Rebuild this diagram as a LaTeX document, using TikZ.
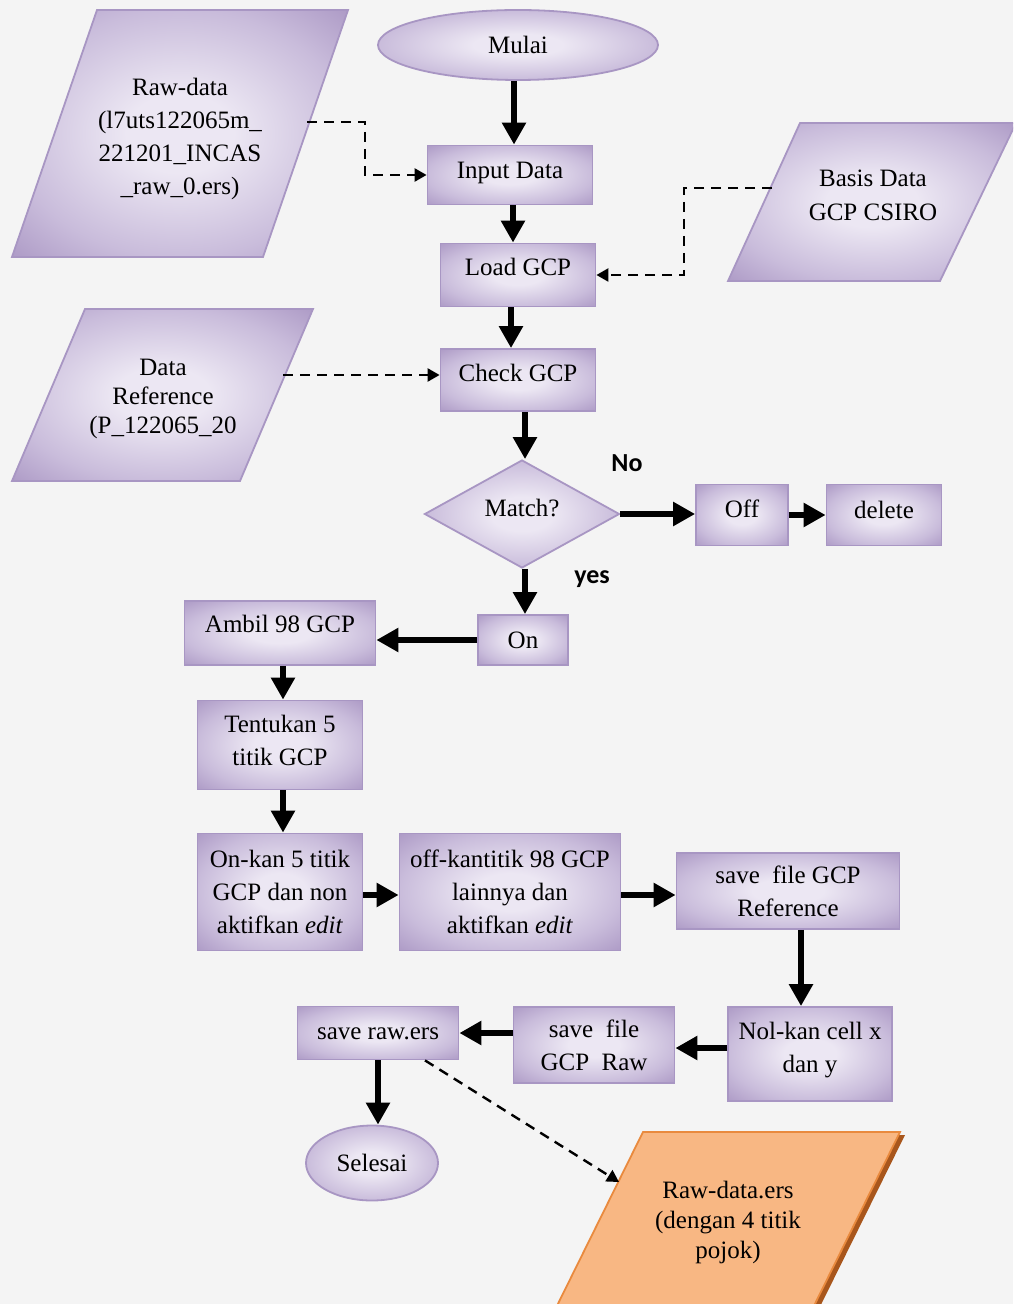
\documentclass[tikz,border=0pt]{standalone}
\usepackage{fontspec}
\setmainfont{Liberation Serif}
\newfontfamily\lblfont{Carlito}
\usetikzlibrary{shapes.geometric,arrows.meta,calc}
\definecolor{lavL}{HTML}{ECE7F3}
\definecolor{lavM}{HTML}{C9BCDB}
\definecolor{lavD}{HTML}{AC99C5}
\definecolor{lavB}{HTML}{A896C3}
\definecolor{orgL}{HTML}{F8B783}
\definecolor{orgD}{HTML}{EF9244}
\definecolor{orgB}{HTML}{E98A3E}
\definecolor{orgS}{HTML}{A8561C}
\definecolor{bgc}{HTML}{F4F4F4}
\pgfdeclareradialshading{lavrad}{\pgfpointorigin}{color(0bp)=(lavL); color(8bp)=(lavL); color(25bp)=(lavM); color(36bp)=(lavD); color(50bp)=(lavD)}
\newcommand\fsz{\fontsize{12.5}{16.5}\selectfont}
\newcommand\liftby[2]{\raisebox{#1}[\height][\depth]{\begin{tabular}{@{}c@{}}#2\end{tabular}}}
\begin{document}
\begin{tikzpicture}[x=0.5pt,y=-0.5pt,
 shp/.style={draw=lavB, line width=0.9pt, shading=lavrad, shade},
 box/.style={shp, rectangle, inner sep=2pt, font=\fsz, align=center},
 lift/.style={text height=8.5pt, text depth=#1pt},
 oval/.style={shp, ellipse, inner sep=0pt, font=\fsz},
 txt/.style={font=\fsz, align=center, inner sep=0pt},
 arr/.style={line width=3.2pt, -{Triangle[width=11.5pt,length=11pt]}},
 darr/.style={line width=1.2pt, dash pattern=on 5pt off 3.5pt, -{Triangle[width=6.5pt,length=6pt]}},
 lbl/.style={font=\lblfont\bfseries\fontsize{13}{15}\selectfont, inner sep=0pt}
]
\useasboundingbox (0,0) rectangle (1013,1304);
\clip (0,0) rectangle (1013,1304);
\fill[bgc] (0,0) rectangle (1013,1304);

% data parallelograms
\path[shp] (97,10) -- (348,10) -- (263,257) -- (12,257) -- cycle;
\node[txt] (rawdata) at (180,139) {Raw-data\\(l7uts122065m\_\\221201\_INCAS\\\_raw\_0.ers)};
\coordinate (rawR) at (307,122);

\path[shp] (85,309) -- (313,309) -- (240,481) -- (12,481) -- cycle;
\node[txt, font=\fontsize{12.5}{14.5}\selectfont] (dataref) at (163,399) {Data\\Reference\\(P\_122065\_20};
\coordinate (refR) at (283,375);

\path[shp] (800,123) -- (1016,123) -- (940,281) -- (728,281) -- cycle;
\node[txt, font=\fontsize{12.5}{17}\selectfont] (basis) at (873,195) {Basis Data\\GCP CSIRO};
\coordinate (basisL) at (772,188);

\path[fill=orgS] (647,1135) -- (905,1135) -- (807,1333) -- (549,1333) -- cycle;
\path[draw=orgB, line width=0.9pt, top color=orgL, middle color=orgD, bottom color=orgL] (643,1132) -- (900,1132) -- (802,1330) -- (545,1330) -- cycle;
\node[txt, font=\fontsize{12.5}{15}\selectfont] (rawers) at (728,1222) {Raw-data.ers\\(dengan 4 titik\\pojok)};
\coordinate (rawersL) at (619,1182);

% process nodes
\node[oval, minimum width=140pt, minimum height=35pt] (mulai) at (518,45) {Mulai};
\node[box, lift=5, minimum width=82.5pt, minimum height=29.5pt] (input) at (510,175) {Input Data};
\node[box, lift=8, minimum width=77.5pt, minimum height=31.5pt] (load) at (518,275) {Load GCP};
\node[box, lift=7, minimum width=77.5pt, minimum height=31pt] (check) at (518,380) {Check GCP};
\node[shp, diamond, aspect=1.8, inner sep=0pt, font=\fsz, lift=6, minimum width=97.5pt, minimum height=54pt] (match) at (522,514) {Match?};
\node[box, lift=6, minimum width=46pt, minimum height=30.5pt] (off) at (742,515) {Off};
\node[box, lift=5, minimum width=57.5pt, minimum height=30.5pt] (delete) at (884,515) {delete};
\node[box, lift=0, minimum width=45pt, minimum height=25pt] (on) at (523,640) {On};
\node[box, lift=9, minimum width=95.5pt, minimum height=32pt] (ambil) at (280,633) {Ambil 98 GCP};
\node[box, minimum width=82.5pt, minimum height=44.5pt] (tentukan) at (280,745) {\liftby{1.5pt}{Tentukan 5\\titik GCP}};
\node[box, minimum width=82.5pt, minimum height=58.5pt] (onkan) at (280,892) {On-kan 5 titik\\GCP dan non\\aktifkan \textit{edit}};
\node[box, minimum width=110.5pt, minimum height=58.5pt] (offkan) at (510,892) {off-kantitik 98 GCP\\lainnya dan\\aktifkan \textit{edit}};
\node[box, minimum width=111.5pt, minimum height=38pt] (saveref) at (788,891) {save\ \ file GCP\\Reference};
\node[box, minimum width=82pt, minimum height=47pt] (nolkan) at (810,1054) {\liftby{2.5pt}{Nol-kan cell x\\dan y}};
\node[box, minimum width=80.5pt, minimum height=38pt] (savegcpraw) at (594,1045) {save\ \ file\\GCP\ \ Raw};
\node[box, lift=2, minimum width=80.5pt, minimum height=26.5pt] (saveraw) at (378,1033) {save raw.ers};
\node[oval, minimum width=66pt, minimum height=37.5pt] (selesai) at (372,1163) {Selesai};

\node[lbl] (no) at (627,463) {No};
\node[lbl] (yes) at (592,579) {yes};

% thick connectors
\draw[arr] ([xshift=-2pt]mulai.south) -- ([xshift=2pt]input.north);
\draw[arr] ([xshift=1.5pt]input.south) -- ([xshift=-2.5pt]load.north);
\draw[arr] ([xshift=-3.5pt]load.south) -- ([xshift=-3.5pt]check.north);
\draw[arr] ([xshift=3.5pt]check.south) -- ([xshift=1.5pt]match.north);
\draw[arr] (match.east) -- (match.east -| off.west);
\draw[arr] (off.east) -- (delete.west);
\draw[arr] ([xshift=1.5pt]match.south) -- ([xshift=1pt]on.north);
\draw[arr] (on.west) -- (on.west -| ambil.east);
\draw[arr] ([xshift=1.5pt]ambil.south) -- ([xshift=1.5pt]tentukan.north);
\draw[arr] ([xshift=1.5pt]tentukan.south) -- ([xshift=1.5pt]onkan.north);
\draw[arr] ([yshift=-1.5pt]onkan.east) -- ([yshift=-1.5pt]offkan.west);
\draw[arr] ([yshift=-1.5pt]offkan.east) -- ([yshift=-1.5pt]offkan.east -| saveref.west);
\draw[arr] ([xshift=6.5pt]saveref.south) -- ([xshift=-4.5pt]nolkan.north);
\draw[arr] ([yshift=3pt]nolkan.west) -- ([yshift=-1.5pt]savegcpraw.east);
\draw[arr] (savegcpraw.west |- saveraw.east) -- (saveraw.east);
\draw[arr] (saveraw.south) -- (saveraw.south |- selesai.north);

% dashed connectors
\draw[darr] (rawR) -- ++(58,0) |- (input.west);
\draw[darr] (basisL) -- ++(-88,0) |- (load.east);
\draw[darr] (refR) -- (refR -| check.west);
\draw[darr] ([xshift=23.5pt]saveraw.south) -- (rawersL);
\end{tikzpicture}
\end{document}
